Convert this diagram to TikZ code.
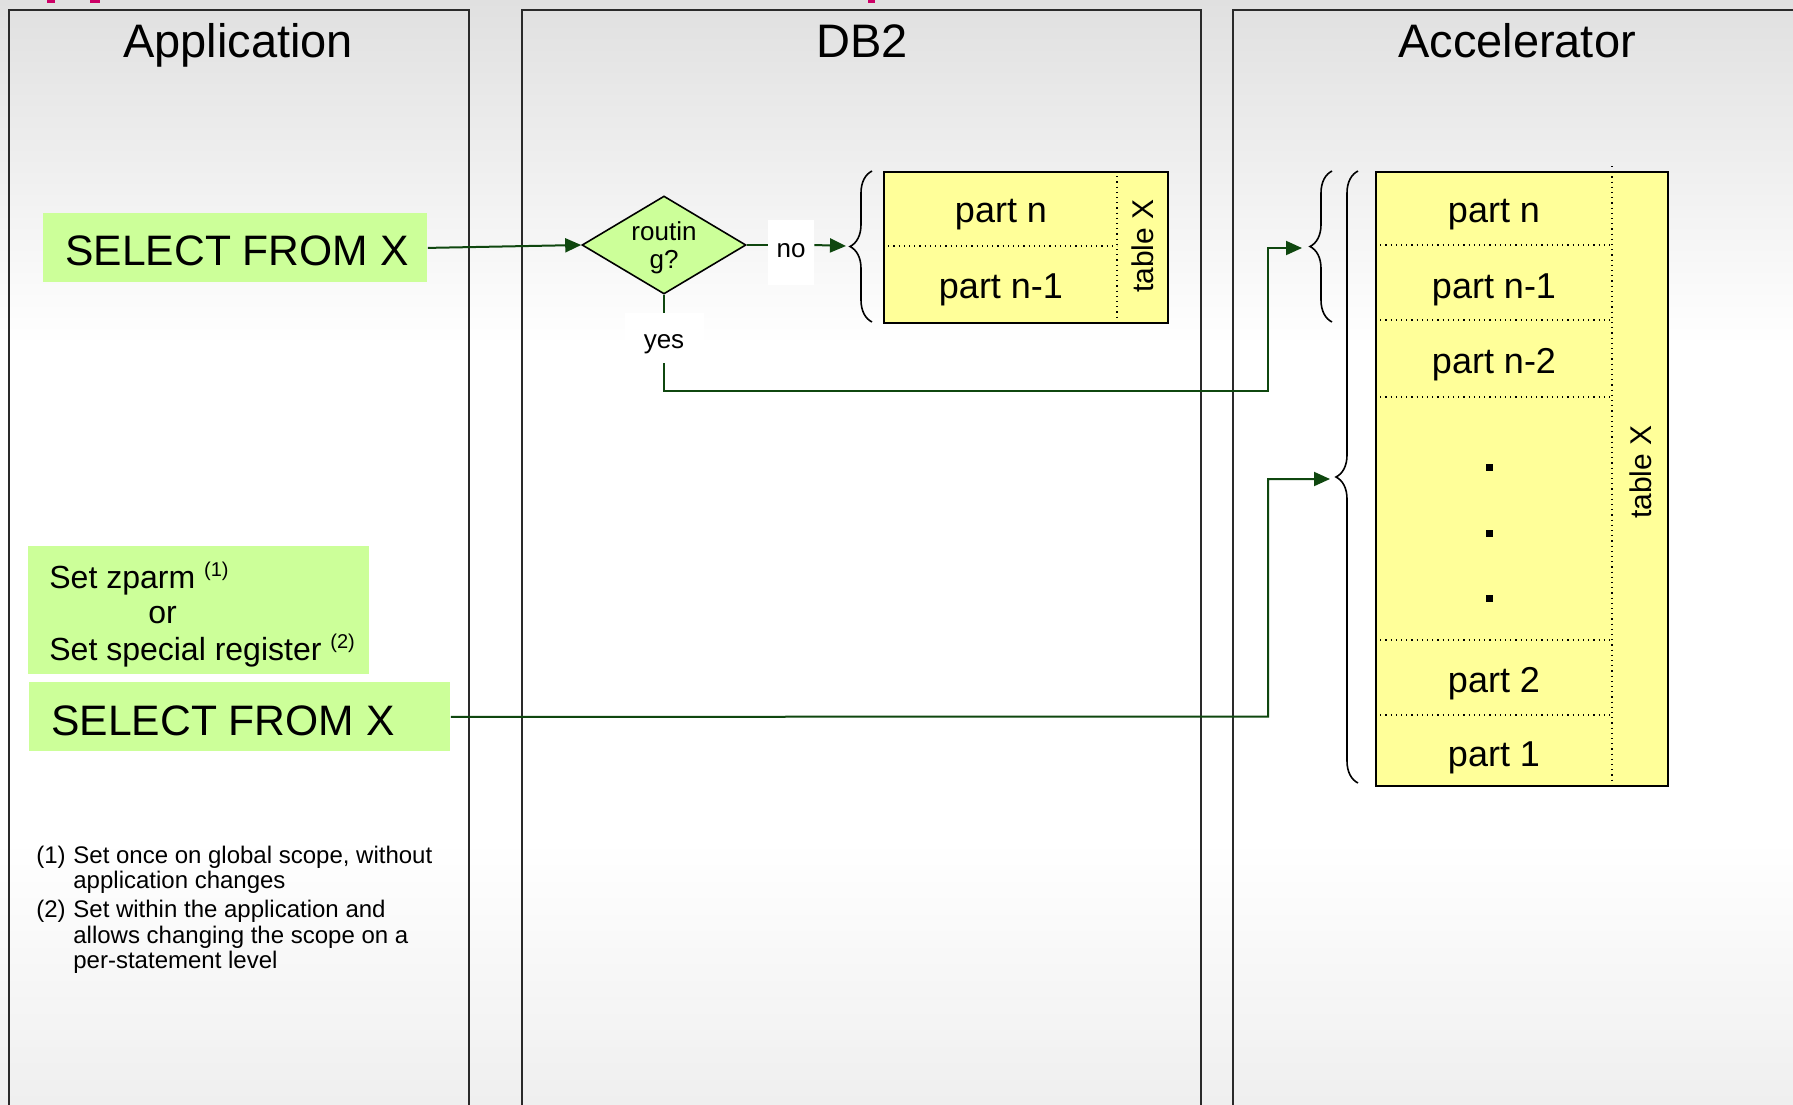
\documentclass[tikz,border=0pt]{standalone}
\usepackage{fontspec}
\setmainfont{Liberation Sans}
\usetikzlibrary{shapes.geometric,arrows.meta,decorations.pathreplacing}
\definecolor{bgtop}{HTML}{E0E0E0}
\definecolor{bgbot}{HTML}{EFEFEF}
\definecolor{boxgreen}{HTML}{CCFF99}
\definecolor{tabyellow}{HTML}{FFFF99}
\definecolor{flowgreen}{HTML}{0F470F}
\definecolor{lanegray}{HTML}{2A2A2A}
\definecolor{slidepink}{HTML}{CC0066}
\begin{document}
\begin{tikzpicture}[x=0.5pt,y=-0.5pt,
  lane/.style={draw=lanegray,line width=1pt},
  lanetitle/.style={font=\fontsize{23.5}{28}\selectfont, anchor=base, inner sep=0pt},
  greenbox/.style={fill=boxgreen, draw=none, anchor=north west, inner sep=0pt},
  bigtext/.style={font=\fontsize{21.3}{25}\selectfont, anchor=base west, inner sep=0pt},
  midtext/.style={font=\fontsize{16}{19}\selectfont, anchor=base west, inner sep=0pt},
  fntext/.style={font=\fontsize{12}{13}\selectfont, anchor=base west, inner sep=0pt},
  parttext/.style={font=\fontsize{18}{21}\selectfont, inner sep=0pt},
  tabtext/.style={font=\fontsize{15}{18}\selectfont, inner sep=0pt, rotate=90},
  smalltext/.style={font=\fontsize{13}{14}\selectfont, inner sep=0pt, anchor=base},
  tablebox/.style={fill=tabyellow, draw=black, line width=1pt, anchor=north west, inner sep=0pt},
  dotsep/.style={dotted, line width=0.6pt},
  conn/.style={draw=flowgreen, line width=1pt, -{Triangle[length=8pt,width=7pt]}},
  flow/.style={draw=flowgreen, line width=1pt},
  bracedeco/.style={decorate, decoration={brace, amplitude=11pt}, line width=0.8pt},
  lblbox/.style={fill=white, draw=none, inner sep=0pt},
  decision/.style={shape=diamond, fill=boxgreen, draw=black, line width=0.8pt, inner sep=0pt, minimum width=82pt, minimum height=49pt},
  sqdot/.style={fill=black}
]
\useasboundingbox (0,0) rectangle (1793,1104);
\clip (0,0) rectangle (1793,1104);
% background
\fill[white] (0,0) rectangle (1793,1104);
\shade[top color=bgtop, bottom color=white] (0,0) rectangle (1793,345);
\shade[top color=white, bottom color=bgbot] (0,840) rectangle (1793,1104);
% cut-off slide title fragments
\fill[slidepink] (47,0) rectangle (55,3);
\fill[slidepink] (90,0) rectangle (100,3);
\fill[slidepink] (868,0) rectangle (875,3);
% lanes
\draw[lane] (9,10) rectangle (469,1130);
\draw[lane] (522,10) rectangle (1201,1130);
\draw[lane] (1233,10) rectangle (1830,1130);
\node[lanetitle] (tapp) at (238,57) {Application};
\node[lanetitle] (tdb) at (862,57) {DB2};
\node[lanetitle] (tacc) at (1517,57) {Accelerator};
% application boxes
\node[greenbox, minimum width=192pt, minimum height=34.5pt] (sel1) at (43,213) {};
\node[bigtext] (sel1t) at (65,265) {SELECT FROM X};
\node[greenbox, minimum width=170.5pt, minimum height=64pt] (zparm) at (28,546) {};
\node[midtext] (zp1) at (49,588) {Set zparm {\fontsize{10}{10}\selectfont\raisebox{6pt}{(1)}}};
\node[midtext] (zp2) at (148,623) {or};
\node[midtext] (zp3) at (49,660) {Set special register {\fontsize{10}{10}\selectfont\raisebox{6pt}{(2)}}};
\node[greenbox, minimum width=210.5pt, minimum height=34.5pt] (sel2) at (29,682) {};
\node[bigtext] (sel2t) at (51,735) {SELECT FROM X};
% footnotes
\node[fntext] (fn1n) at (36,863) {(1)};
\node[fntext] (fn1a) at (73,863) {Set once on global scope, without};
\node[fntext] (fn1b) at (73,888) {application changes};
\node[fntext] (fn2n) at (36,917) {(2)};
\node[fntext] (fn2a) at (73,917) {Set within the application and};
\node[fntext] (fn2b) at (73,943) {allows changing the scope on a};
\node[fntext] (fn2c) at (73,968) {per-statement level};
% DB2 lane
\node[decision] (dia) at (664,245) {};
\node[smalltext] (dt1) at (664,240) {routin};
\node[smalltext] (dt2) at (664,268) {g?};
\node[lblbox, minimum width=23pt, minimum height=32.5pt] (no) at (791,252.5) {};
\node[smalltext] (notext) at (791,257) {no};
\node[lblbox, minimum width=39.5pt, minimum height=25pt] (yes) at (664,338) {};
\node[smalltext] (yestext) at (664,348) {yes};
\node[tablebox, minimum width=142pt, minimum height=75.5pt] (dbtab) at (883,171) {};
\draw[dotsep] (883,246) -- (1117,246);
\draw[dotsep] (1117,171) -- (1117,322);
\node[parttext] (db1) at (1001,215) {part n};
\node[parttext] (db2) at (1001,290) {part n-1};
\node[tabtext] (dbx) at (1143,246) {table X};
\draw[bracedeco] (872,322) -- (872,171);
\coordinate (dbtip) at (846,246);
% Accelerator lane
\node[tablebox, minimum width=146pt, minimum height=307pt] (acctab) at (1375,171) {};
\foreach \yy in {245,320,397,640,715} \draw[dotsep] (1375,\yy) -- (1612,\yy);
\draw[dotsep] (1612,166) -- (1612,785);
\node[parttext] (ac1) at (1494,215) {part n};
\node[parttext] (ac2) at (1494,290) {part n-1};
\node[parttext] (ac3) at (1494,365) {part n-2};
\fill[sqdot] (1485.5,463.5) rectangle +(7,7);
\fill[sqdot] (1485.5,529.5) rectangle +(7,7);
\fill[sqdot] (1485.5,594.5) rectangle +(7,7);
\node[parttext] (ac4) at (1494,684) {part 2};
\node[parttext] (ac5) at (1494,758) {part 1};
\node[tabtext] (acx) at (1641,472) {table X};
\draw[bracedeco] (1332,322) -- (1332,171);
\draw[bracedeco] (1358,783) -- (1358,171);
\coordinate (acctip1) at (1302,248);
\coordinate (acctip2) at (1330,479);
\coordinate (j1) at (1268,391);
\coordinate (j2) at (1268,716.5);
% connectors
\draw[conn] (sel1.east) -- (dia.west);
\draw[flow] (dia.east) -- (dia.east -| no.west);
\draw[conn] (no.east |- dia.east) -- (dbtip);
\draw[flow] (dia.south) -- (yes.north);
\draw[conn] (yes.south) |- (j1) |- (acctip1);
\draw[conn] (sel2.east) -- (j2) |- (acctip2);
\end{tikzpicture}
\end{document}
